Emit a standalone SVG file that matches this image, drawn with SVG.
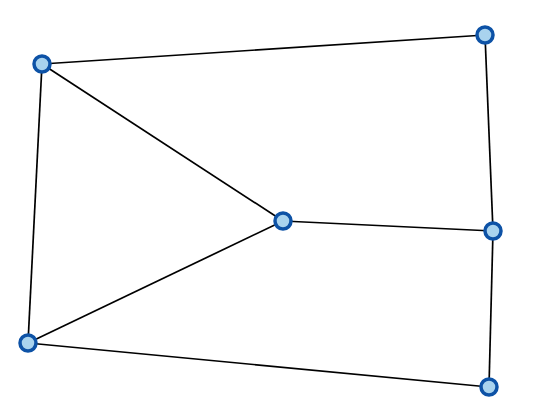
<svg xmlns="http://www.w3.org/2000/svg" width="540" height="416" viewBox="0 0 540 416">
<style>
.e{stroke:#000;stroke-width:1.7;fill:none}
.n{fill:#a9d3ee;stroke:#0d52a6;stroke-width:3.5}
</style>
<rect width="540" height="416" fill="#fff"/>
<g id="edges">
<line class="e" x1="42" y1="64" x2="485" y2="35"/>
<line class="e" x1="42" y1="64" x2="283" y2="221"/>
<line class="e" x1="42" y1="64" x2="28" y2="343"/>
<line class="e" x1="283" y1="221" x2="28" y2="343"/>
<line class="e" x1="283" y1="221" x2="493" y2="231"/>
<line class="e" x1="485" y1="35" x2="493" y2="231"/>
<line class="e" x1="493" y1="231" x2="489" y2="387"/>
<line class="e" x1="28" y1="343" x2="489" y2="387"/>
</g>
<g id="n1"><circle class="n" cx="42" cy="64" r="8"/></g>
<g id="n2"><circle class="n" cx="485" cy="35" r="8"/></g>
<g id="n3"><circle class="n" cx="283" cy="221" r="8"/></g>
<g id="n4"><circle class="n" cx="493" cy="231" r="8"/></g>
<g id="n5"><circle class="n" cx="28" cy="343" r="8"/></g>
<g id="n6"><circle class="n" cx="489" cy="387" r="8"/></g>
</svg>
